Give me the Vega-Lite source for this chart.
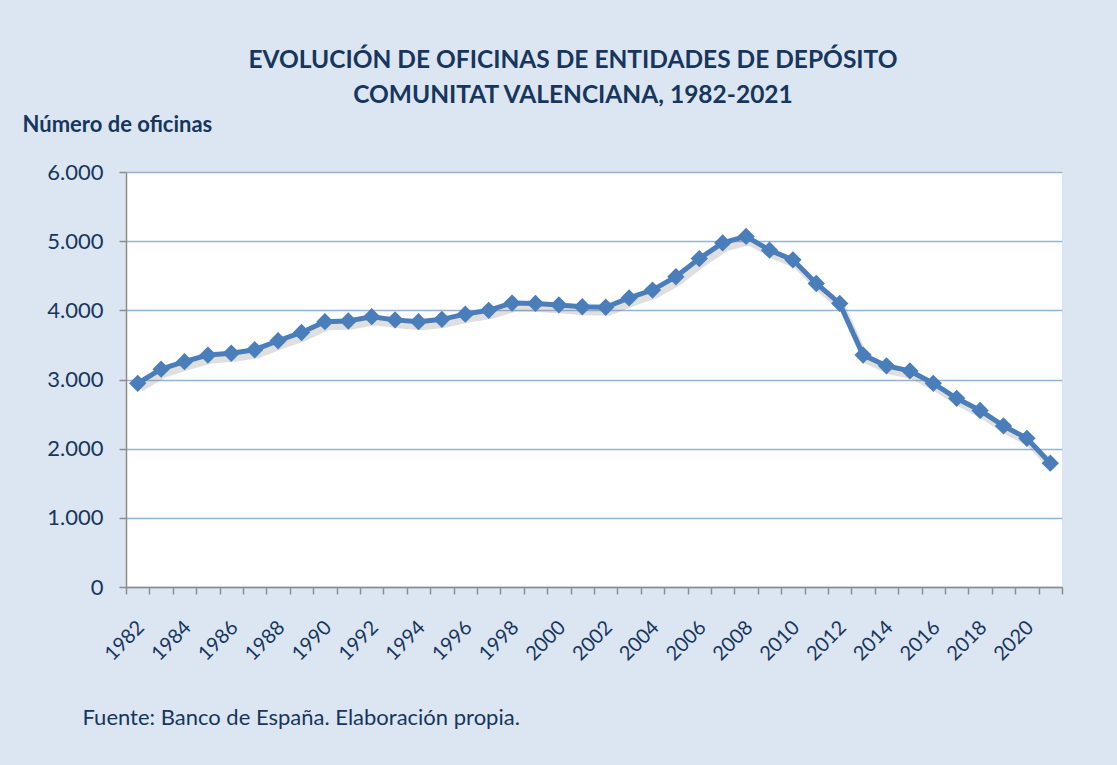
{
  "$schema": "https://vega.github.io/schema/vega-lite/v6.json",
  "width": 936,
  "height": 415,
  "autosize": {"type": "none"},
  "padding": {"left": 126, "top": 172, "right": 55, "bottom": 178},
  "background": "#dce6f2",
  "title": {
    "text": ["EVOLUCIÓN DE OFICINAS DE ENTIDADES DE DEPÓSITO", "COMUNITAT VALENCIANA, 1982-2021"],
    "anchor": "middle",
    "frame": "group",
    "dx": -21,
    "offset": 5,
    "font": "Lato",
    "fontSize": 24.5,
    "fontWeight": "bold",
    "color": "#17365d",
    "lineHeight": 35
  },
  "config": {
    "view": {"stroke": null, "fill": "#ffffff"},
    "font": "Lato"
  },
  "data": {
    "values": [
      {"year": 1982, "oficinas": 2945},
      {"year": 1983, "oficinas": 3150},
      {"year": 1984, "oficinas": 3258},
      {"year": 1985, "oficinas": 3353},
      {"year": 1986, "oficinas": 3380},
      {"year": 1987, "oficinas": 3430},
      {"year": 1988, "oficinas": 3560},
      {"year": 1989, "oficinas": 3680},
      {"year": 1990, "oficinas": 3836},
      {"year": 1991, "oficinas": 3846},
      {"year": 1992, "oficinas": 3908},
      {"year": 1993, "oficinas": 3862},
      {"year": 1994, "oficinas": 3836},
      {"year": 1995, "oficinas": 3870},
      {"year": 1996, "oficinas": 3945},
      {"year": 1997, "oficinas": 4000},
      {"year": 1998, "oficinas": 4105},
      {"year": 1999, "oficinas": 4100},
      {"year": 2000, "oficinas": 4078},
      {"year": 2001, "oficinas": 4052},
      {"year": 2002, "oficinas": 4045},
      {"year": 2003, "oficinas": 4180},
      {"year": 2004, "oficinas": 4293},
      {"year": 2005, "oficinas": 4486},
      {"year": 2006, "oficinas": 4748},
      {"year": 2007, "oficinas": 4975},
      {"year": 2008, "oficinas": 5068},
      {"year": 2009, "oficinas": 4870},
      {"year": 2010, "oficinas": 4730},
      {"year": 2011, "oficinas": 4388},
      {"year": 2012, "oficinas": 4100},
      {"year": 2013, "oficinas": 3353},
      {"year": 2014, "oficinas": 3197},
      {"year": 2015, "oficinas": 3124},
      {"year": 2016, "oficinas": 2944},
      {"year": 2017, "oficinas": 2728},
      {"year": 2018, "oficinas": 2552},
      {"year": 2019, "oficinas": 2329},
      {"year": 2020, "oficinas": 2150},
      {"year": 2021, "oficinas": 1790}
    ]
  },
  "encoding": {
    "x": {
      "field": "year",
      "type": "ordinal",
      "scale": {"type": "band", "paddingInner": 0, "paddingOuter": 0},
      "axis": {
        "title": "Fuente: Banco de España. Elaboración propia.",
        "titleX": -44,
        "titleY": 137,
        "titleAlign": "left",
        "titleAnchor": "start",
        "titleBaseline": "alphabetic",
        "titleFont": "Lato",
        "titleFontSize": 22,
        "titleFontWeight": "normal",
        "titleColor": "#17365d",
        "labelAngle": -45,
        "labelFontSize": 20,
        "labelColor": "#17365d",
        "labelPadding": 23,
        "labelOffset": -4,
        "labelExpr": "datum.value % 2 == 0 ? datum.label : ''",
        "tickBand": "extent",
        "tickSize": 7,
        "tickColor": "#8c8c8c",
        "tickWidth": 1.5,
        "domainColor": "#8c8c8c",
        "domainWidth": 1.5,
        "grid": false,
        "labelOverlap": false
      }
    },
    "y": {
      "field": "oficinas",
      "type": "quantitative",
      "scale": {"domain": [0, 6000], "nice": false},
      "axis": {
        "title": "Número de oficinas",
        "titleAngle": 0,
        "titleX": -104,
        "titleY": -41,
        "titleAlign": "left",
        "titleBaseline": "alphabetic",
        "titleFontSize": 22,
        "titleFontWeight": "bold",
        "titleColor": "#17365d",
        "values": [0, 1000, 2000, 3000, 4000, 5000, 6000],
        "labelExpr": "replace(format(datum.value, ','), ',', '.')",
        "labelFontSize": 22,
        "labelColor": "#17365d",
        "labelPadding": 16,
        "tickSize": 7,
        "tickColor": "#8c8c8c",
        "tickWidth": 1.5,
        "domainColor": "#8c8c8c",
        "domainWidth": 1.5,
        "grid": true,
        "gridColor": "#95b3d7",
        "gridWidth": 1.5
      }
    }
  },
  "layer": [
    {
      "mark": {"type": "line", "color": "#7f7f7f", "opacity": 0.25, "strokeWidth": 7, "xOffset": 3, "yOffset": 5}
    },
    {
      "mark": {
        "type": "line",
        "color": "#4a7ebb",
        "strokeWidth": 5,
        "point": {"shape": "diamond", "size": 300, "filled": true, "color": "#4a7ebb", "opacity": 1}
      }
    }
  ]
}
